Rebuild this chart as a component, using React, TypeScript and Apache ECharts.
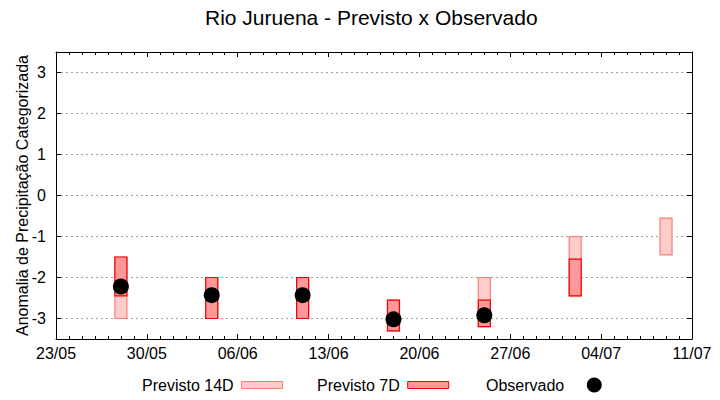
import React, { useEffect, useRef } from "react";
import * as echarts from "echarts";

// x positions are days after 23/05
const tickLabels = ["23/05", "30/05", "06/06", "13/06", "20/06", "27/06", "04/07", "11/07"];
const forecastDays = [5, 12, 19, 26, 33, 40, 47];
const prev14High = [-1.5, -2, -2, -2.55, -2, -1, -0.55];
const prev14Low = [-3, -3, -3, -3.3, -3.2, -2.45, -1.45];
const prev7High = [-1.5, -2, -2, -2.55, -2.55, -1.55, null];
const prev7Low = [-2.45, -3, -3, -3.3, -3.2, -2.45, null];
const observed = [-2.22, -2.43, -2.43, -3.02, -2.92];

const FONT = "Liberation Sans";
const LIGHT_FILL = "#ffcccc";
const LIGHT_STROKE = "#f88070";
const DARK_FILL = "#ff9999";
const DARK_STROKE = "#ee0000";

function rangeData(lo: (number | null)[], hi: (number | null)[]) {
  const out: number[][] = [];
  forecastDays.forEach((d, i) => {
    if (lo[i] != null && hi[i] != null) out.push([d, lo[i] as number, hi[i] as number]);
  });
  return out;
}

function makeRender(fill: string, stroke: string) {
  return (params: any, api: any) => {
    const x = api.value(0);
    const lo = api.value(1);
    const hi = api.value(2);
    const pTop = api.coord([x, hi]);
    const pBot = api.coord([x, lo]);
    const w = 12;
    return {
      type: "rect",
      shape: { x: pTop[0] - w / 2, y: pTop[1], width: w, height: pBot[1] - pTop[1] },
      style: { fill, stroke, lineWidth: 1.2 },
    };
  };
}

export default function App() {
  const ref = useRef<HTMLDivElement>(null);
  useEffect(() => {
    if (!ref.current) return;
    const chart = echarts.init(ref.current, undefined, { renderer: "svg" });
    const axisLine = { show: true, onZero: false, lineStyle: { color: "#000", width: 1 } };
    const xCommon = {
      type: "value" as const,
      min: 0,
      max: 49,
      interval: 7,
      axisLine,
      axisTick: { show: true, inside: true, length: 5, lineStyle: { color: "#000" } },
      minorTick: { show: true, splitNumber: 7, length: 3, lineStyle: { color: "#000" } },
      splitLine: { show: false },
      minorSplitLine: { show: false },
    };
    const yCommon = {
      type: "value" as const,
      min: -3.5,
      max: 3.5,
      splitNumber: 7,
      axisLine,
      axisTick: { show: true, inside: true, length: 5, lineStyle: { color: "#000" } },
    };
    chart.setOption({
      animation: false,
      backgroundColor: "#fff",
      textStyle: { fontFamily: FONT },
      title: {
        text: "Rio Juruena - Previsto x Observado",
        left: 205,
        top: 7,
        padding: 0,
        textStyle: { fontFamily: FONT, fontSize: 21, fontWeight: "normal", color: "#000" },
      },
      grid: { left: 56, right: 28, top: 52, bottom: 61, containLabel: false },
      xAxis: [
        {
          ...xCommon,
          position: "bottom",
          axisLabel: {
            show: true,
            margin: 6,
            color: "#000",
            fontFamily: FONT,
            fontSize: 16,
            formatter: (v: number) => tickLabels[Math.round(v / 7)] ?? "",
          },
        },
        {
          ...xCommon,
          position: "top",
          axisLabel: { show: false },
        },
      ],
      yAxis: [
        {
          ...yCommon,
          position: "left",
          name: "Anomalia de Precipitação Categorizada",
          nameLocation: "middle",
          nameGap: 26,
          nameMoveOverlap: false,
          nameTextStyle: { fontFamily: FONT, fontSize: 16, color: "#000" },
          axisLabel: {
            show: true,
            margin: 10,
            color: "#000",
            fontFamily: FONT,
            fontSize: 16,
            showMinLabel: false,
            showMaxLabel: false,
            formatter: (v: number) => (Number.isInteger(v) ? String(v) : ""),
          },
          splitLine: { show: true, lineStyle: { color: "#a0a0a0", type: [2, 3], width: 1 } },
        },
        {
          ...yCommon,
          position: "right",
          axisLabel: { show: false },
          splitLine: { show: false },
        },
      ],
      legend: [
        {
          left: 142,
          top: 377,
          padding: 0,
          align: "right",
          itemWidth: 41,
          itemHeight: 7,
          textStyle: { fontFamily: FONT, fontSize: 16, color: "#000", padding: [0, 3, 0, 0] },
          data: [
            {
              name: "Previsto 14D",
              icon: "rect",
              itemStyle: { color: LIGHT_FILL, borderColor: LIGHT_STROKE, borderWidth: 1 },
            },
          ],
        },
        {
          left: 317,
          top: 377,
          padding: 0,
          align: "right",
          itemWidth: 41,
          itemHeight: 7,
          textStyle: { fontFamily: FONT, fontSize: 16, color: "#000", padding: [0, 3, 0, 0] },
          data: [
            {
              name: "Previsto 7D",
              icon: "rect",
              itemStyle: { color: DARK_FILL, borderColor: DARK_STROKE, borderWidth: 1 },
            },
          ],
        },
        {
          left: 486,
          top: 377,
          padding: 0,
          align: "right",
          itemWidth: 50,
          itemHeight: 15,
          textStyle: { fontFamily: FONT, fontSize: 16, color: "#000" },
          data: [{ name: "Observado", icon: "circle", itemStyle: { color: "#000", opacity: 1 } }],
        },
      ],
      series: [
        {
          name: "Previsto 14D",
          type: "custom",
          xAxisIndex: 0,
          yAxisIndex: 0,
          itemStyle: { color: LIGHT_FILL, borderColor: LIGHT_STROKE },
          renderItem: makeRender(LIGHT_FILL, LIGHT_STROKE),
          encode: { x: 0, y: [1, 2] },
          data: rangeData(prev14Low, prev14High),
          z: 2,
        },
        {
          name: "Previsto 7D",
          type: "custom",
          xAxisIndex: 0,
          yAxisIndex: 0,
          itemStyle: { color: DARK_FILL, borderColor: DARK_STROKE },
          renderItem: makeRender(DARK_FILL, DARK_STROKE),
          encode: { x: 0, y: [1, 2] },
          data: rangeData(prev7Low, prev7High),
          z: 3,
        },
        {
          name: "Observado",
          type: "scatter",
          xAxisIndex: 0,
          yAxisIndex: 0,
          symbol: "circle",
          symbolSize: 16,
          itemStyle: { color: "#000", opacity: 1 },
          data: observed.map((v, i) => [forecastDays[i], v]),
          z: 4,
        },
      ],
    });
    return () => chart.dispose();
  }, []);
  return (
    <div
      ref={ref}
      style={{ position: "fixed", left: 0, top: 0, width: 720, height: 400, background: "#fff" }}
    />
  );
}
